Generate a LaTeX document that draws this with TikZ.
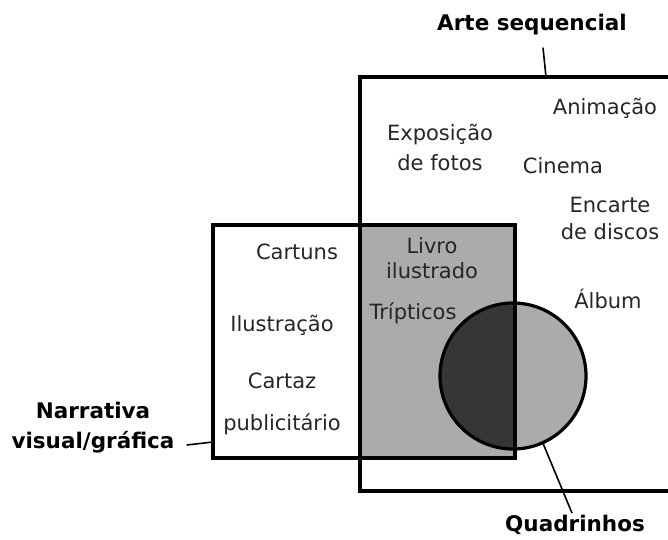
\documentclass[tikz,border=0pt]{standalone}
\usepackage{fontspec}
\setmainfont{DejaVu Sans}
\usepackage{tikz}
\usetikzlibrary{calc, positioning}

\definecolor{lightgray}{HTML}{ABABAB}
\definecolor{darkgray}{HTML}{363636}

\tikzset{
  lbl/.style={font=\fontsize{21}{30}\selectfont, text=black!85, align=center, inner sep=0pt},
  ttl/.style={font=\bfseries\fontsize{21.5}{30}\selectfont, align=center, inner sep=2pt},
  frame/.style={draw, line width=3.2pt, inner sep=0pt},
  pin/.style={line width=1.6pt}
}

\begin{document}
\begin{tikzpicture}[x=1pt, y=-1pt]
      \useasboundingbox (0,0) rectangle (668,539);
      % shaded areas
      \fill[lightgray] (360,225) rectangle (515,458);
      \fill[lightgray] (513,376) circle (73pt);
      \begin{scope}
          \clip (213,225) rectangle (515,458);
          \fill[darkgray] (513,376) circle (73pt);
      \end{scope}
      % sets
      \node[frame, circle, minimum size=146pt] (quad) at (513,376) {};
      \node[frame, minimum width=330pt, minimum height=414pt] (seq) at (525,284) {};
      \node[frame, minimum width=302pt, minimum height=233pt] (narbox) at (364,341.5) {};
      % titles
      \node[ttl] (arte) at (532,25) {Arte sequencial};
      \node[ttl] (narr) at (93,428) {Narrativa\\visual/gráfica};
      \node[ttl] (quadlbl) at (575,525) {Quadrinhos};
      \coordinate (seqpin) at (546,77);
      \coordinate (narpin) at (213,442);
      \draw[pin] ([shift={(11,10)}]arte.south) -- (seqpin);
      \draw[pin] ([shift={(10,17)}]narr.east) -- (narpin);
      \draw[pin] (quad.-66) -- ([xshift=-3pt]quadlbl.north);
      % labels
      \node[lbl] (anim) at (605,108) {Animação};
      \node[lbl] (expo) at (440,147) {Exposição\\de fotos};
      \node[lbl] (cine) at (563,166) {Cinema};
      \node[lbl, font=\fontsize{21}{27}\selectfont] (encarte) at (610,218) {Encarte\\de discos};
      \node[lbl] (album) at (608,299) {Álbum};
      \node[lbl, font=\fontsize{21}{25}\selectfont] (livro) at (432,258) {Livro\\ilustrado};
      \node[lbl] (trip) at (413,313) {Trípticos};
      \node[lbl] (cartuns) at (297,252) {Cartuns};
      \node[lbl] (ilus) at (282,325) {Ilustração};
      \node[lbl, font=\fontsize{21}{42}\selectfont] (cartaz) at (282,404) {Cartaz\\publicitário};
\end{tikzpicture}
\end{document}
